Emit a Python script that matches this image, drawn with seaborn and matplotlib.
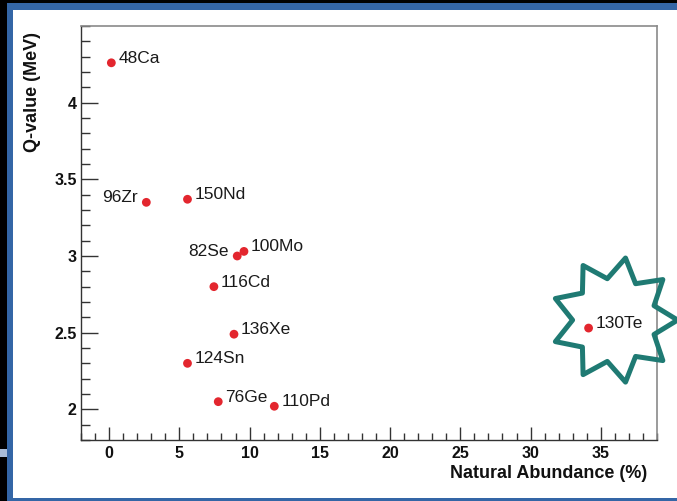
import numpy as np
import pandas as pd
import matplotlib
matplotlib.use("Agg")
import matplotlib.pyplot as plt
import matplotlib.transforms as mtransforms
from matplotlib.patches import Rectangle, Polygon
from matplotlib.ticker import FixedLocator, MultipleLocator
import seaborn as sns

# Double-beta decay candidates: natural abundance vs. Q-value
isotopes = ["48Ca", "96Zr", "150Nd", "82Se", "100Mo", "116Cd",
            "136Xe", "124Sn", "76Ge", "110Pd", "130Te"]
abundance = [0.16, 2.65, 5.58, 9.12, 9.60, 7.46, 8.89, 5.58, 7.77, 11.76, 34.13]
q_value = [4.26, 3.35, 3.37, 3.00, 3.03, 2.80, 2.49, 2.30, 2.05, 2.02, 2.53]
label_side = ["right", "left", "right", "left", "right", "right",
              "right", "right", "right", "right", "right"]

x_ticks = [0, 5, 10, 15, 20, 25, 30, 35]
x_tick_labels = ["0", "5", "10", "15", "20", "25", "30", "35"]
y_ticks = [2.0, 2.5, 3.0, 3.5, 4.0]
y_tick_labels = ["2", "2.5", "3", "3.5", "4"]

df = pd.DataFrame({"isotope": isotopes, "abundance": abundance, "q": q_value})

sns.set_theme(style="white")
plt.rcParams["font.family"] = ["Liberation Sans", "DejaVu Sans"]

W, H = 677, 501
fig = plt.figure(figsize=(W / 100, H / 100), dpi=100, facecolor="black")


def fx(px):
    return px / W


def fy(py):
    return 1 - py / H


# slide frame
fig.add_artist(Rectangle((fx(7), 0), fx(W - 7), 1 - 3 / H,
                         transform=fig.transFigure, facecolor="#3466a6",
                         edgecolor="none", zorder=0))
fig.add_artist(Rectangle((fx(13), fy(498)), fx(W - 13), (498 - 9.5) / H,
                         transform=fig.transFigure, facecolor="white",
                         edgecolor="none", zorder=0))
fig.add_artist(Rectangle((0, fy(457)), fx(7), 8 / H,
                         transform=fig.transFigure, facecolor="#a9bdd8",
                         edgecolor="none", zorder=0))

left, right, top, bottom = 81, 657, 26, 440
ax = fig.add_axes([fx(left), fy(bottom), fx(right - left), (bottom - top) / H])
ax.set_facecolor("none")

sns.scatterplot(data=df, x="abundance", y="q", ax=ax, color="#e3262e",
                s=40, edgecolor="none", linewidth=0, zorder=3)

for name, xv, yv, side in zip(isotopes, abundance, q_value, label_side):
    if side == "right":
        off, ha = (5.0, 0.0), "left"
    else:
        off, ha = (-6.0, 0.0), "right"
    ax.annotate(name, (xv, yv), xytext=off, textcoords="offset points",
                ha=ha, va="baseline", fontsize=12.5, color="#1a1a1a", zorder=4)

ax.set_xlim(-2, 39)
ax.set_ylim(1.8, 4.5)

ax.xaxis.set_major_locator(FixedLocator(x_ticks))
ax.set_xticklabels(x_tick_labels)
ax.xaxis.set_minor_locator(MultipleLocator(1))
ax.yaxis.set_major_locator(FixedLocator(y_ticks))
ax.set_yticklabels(y_tick_labels)
ax.yaxis.set_minor_locator(MultipleLocator(0.1))

ax.tick_params(axis="x", which="major", direction="in", length=9.4, width=1.0,
               color="#333333", pad=4.5, labelsize=11.5, bottom=True, top=False)
ax.tick_params(axis="x", which="minor", direction="in", length=5.0, width=1.0,
               color="#333333", bottom=True, top=False)
ax.tick_params(axis="y", which="major", direction="in", length=12.2, width=1.0,
               color="#333333", pad=3, labelsize=11.5, left=True, right=False)
ax.tick_params(axis="y", which="minor", direction="in", length=6.5, width=1.0,
               color="#333333", left=True, right=False)
for lab in ax.get_xticklabels() + ax.get_yticklabels():
    lab.set_fontweight("bold")
    lab.set_color("#111111")

for side in ["left", "bottom"]:
    ax.spines[side].set_color("#333333")
    ax.spines[side].set_linewidth(1.0)
for side in ["top", "right"]:
    ax.spines[side].set_color("#8a8a8a")
    ax.spines[side].set_linewidth(1.2)

ax.set_xlabel("Natural Abundance (%)", fontsize=13, fontweight="bold",
              color="#111111", ha="right", va="center")
ax.xaxis.set_label_coords((647 - left) / (right - left), -(474 - bottom) / (bottom - top))
ax.set_ylabel("Q-value (MeV)", fontsize=13, fontweight="bold",
              color="#111111", ha="right", va="center")
ax.yaxis.set_label_coords((33 - left) / (right - left), (bottom - 32) / (bottom - top))

# highlight star around 130Te
n_tips, r_out, r_in, start = 9, 63, 42, 80
ang = np.deg2rad(start + np.arange(2 * n_tips) * 180 / n_tips)
rad = np.where(np.arange(2 * n_tips) % 2 == 0, r_out, r_in)
verts = np.column_stack([rad * np.cos(ang) + 26, rad * np.sin(ang) + 8]) / 100.0
te = isotopes.index("130Te")
star_tr = fig.dpi_scale_trans + mtransforms.ScaledTranslation(
    abundance[te], q_value[te], ax.transData)
ax.add_patch(Polygon(verts, closed=True, fill=False, edgecolor="#1f7a73",
                     linewidth=3.6, joinstyle="round", transform=star_tr,
                     clip_on=False, zorder=5))

fig.savefig("out.png", dpi=100, facecolor=fig.get_facecolor())
